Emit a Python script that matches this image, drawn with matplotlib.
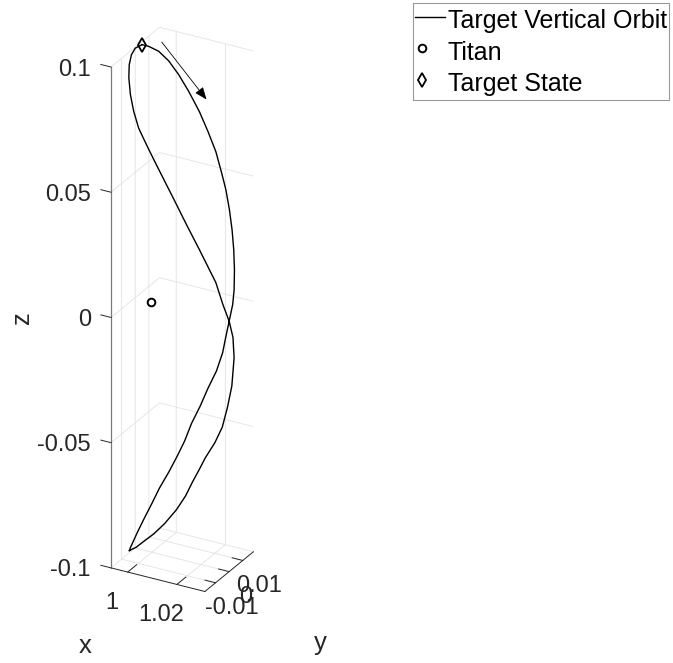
import matplotlib.pyplot as plt
import matplotlib.ticker as mticker
from matplotlib.legend_handler import HandlerLine2D
from mpl_toolkits.mplot3d import proj3d

# Target vertical orbit in the normalised rotating frame, starting at the target state
orbit_x = [0.9933, 0.9948, 0.9969, 0.9995, 1.0025, 1.0058, 1.0096, 1.0129, 1.0164, 1.0193,
           1.0217, 1.0238, 1.0261, 1.0280, 1.0299, 1.0311, 1.0314,
           1.0314,
           1.0314, 1.0311, 1.0299, 1.0280, 1.0261, 1.0238, 1.0217, 1.0193, 1.0164, 1.0129,
           1.0096, 1.0058, 1.0025, 0.9995, 0.9969, 0.9948, 0.9933,
           0.9934, 0.9941, 0.9958, 0.9979, 1.0006, 1.0031, 1.0055, 1.0085, 1.0112, 1.0152,
           1.0188, 1.0224, 1.0259, 1.0297, 1.0309,
           1.0314,
           1.0309, 1.0297, 1.0259, 1.0224, 1.0188, 1.0152, 1.0112, 1.0085, 1.0055, 1.0031,
           1.0006, 0.9979, 0.9958, 0.9941, 0.9934,
           0.9933]
orbit_y = [0.0048, 0.0070, 0.0105, 0.0131, 0.0151, 0.0165, 0.0175, 0.0178, 0.0173, 0.0161,
           0.0151, 0.0139, 0.0117, 0.0095, 0.0066, 0.0042, 0.0026,
           0.0,
           -0.0026, -0.0042, -0.0066, -0.0095, -0.0117, -0.0139, -0.0151, -0.0161, -0.0173, -0.0178,
           -0.0175, -0.0165, -0.0151, -0.0131, -0.0105, -0.0070, -0.0048,
           0.0003, 0.0044, 0.0091, 0.0132, 0.0169, 0.0190, 0.0197, 0.0194, 0.0189, 0.0187,
           0.0177, 0.0151, 0.0119, 0.0067, 0.0037,
           0.0,
           -0.0037, -0.0067, -0.0119, -0.0151, -0.0177, -0.0187, -0.0189, -0.0194, -0.0197, -0.0190,
           -0.0169, -0.0132, -0.0091, -0.0044, -0.0003,
           0.0048]
orbit_z = [0.0989, 0.0976, 0.0946, 0.0903, 0.0846, 0.0781, 0.0705, 0.0633, 0.0563, 0.0495,
           0.0434, 0.0365, 0.0300, 0.0235, 0.0173, 0.0107, 0.0055,
           0.0,
           -0.0055, -0.0107, -0.0173, -0.0235, -0.0300, -0.0365, -0.0434, -0.0495, -0.0563, -0.0633,
           -0.0705, -0.0781, -0.0846, -0.0903, -0.0946, -0.0976, -0.0989,
           -0.0998, -0.0992, -0.0977, -0.0949, -0.0904, -0.0853, -0.0795, -0.0735, -0.0680, -0.0609,
           -0.0533, -0.0431, -0.0325, -0.0180, -0.0082,
           0.0,
           0.0082, 0.0180, 0.0325, 0.0431, 0.0533, 0.0609, 0.0680, 0.0735, 0.0795, 0.0853,
           0.0904, 0.0949, 0.0977, 0.0992, 0.0998,
           0.0989]

titan = (0.99976, 0.0, 0.0)

x_ticks = [1.0, 1.02]
y_ticks = [-0.01, 0.0, 0.01]
z_ticks = [-0.1, -0.05, 0.0, 0.05, 0.1]
x_tick_labels = ['1', '1.02']
y_tick_labels = ['-0.01', '0', '0.01']
z_tick_labels = ['-0.1', '-0.05', '0', '0.05', '0.1']

xlim = (0.9932, 1.0314)
ylim = (-0.0178, 0.0178)
zlim = (-0.1, 0.1)

plt.rcParams['font.family'] = 'Liberation Sans'
plt.rcParams['grid.color'] = '#e2e2e2'
plt.rcParams['grid.linewidth'] = 0.6

ink = '#262626'

fig = plt.figure(figsize=(6.73, 6.63), dpi=100)
ax = fig.add_axes([-0.1596, 0.0965, 0.8380, 0.8507], projection='3d', proj_type='ortho')
ax.view_init(elev=27, azim=-61)
ax.set_xlim(*xlim)
ax.set_ylim(*ylim)
ax.set_zlim(*zlim)
ax.set_box_aspect((xlim[1] - xlim[0], ylim[1] - ylim[0], zlim[1] - zlim[0]))

orbit, = ax.plot(orbit_x, orbit_y, orbit_z, color='k', lw=1.0)
moon, = ax.plot([titan[0]], [titan[1]], [titan[2]], 'o', ms=5.5,
                mfc='none', mec='k', mew=1.4)
state, = ax.plot(orbit_x[:1], orbit_y[:1], orbit_z[:1], 'd', ms=7.5,
                 mfc='none', mec='k', mew=1.3)

ax.set_xticks(x_ticks)
ax.set_yticks(y_ticks)
ax.set_zticks(z_ticks)
for axis in (ax.xaxis, ax.yaxis, ax.zaxis):
    axis.set_major_formatter(mticker.NullFormatter())
    axis.set_tick_params(label1On=False, label2On=False, color=ink)
    axis.set_pane_color((1, 1, 1, 0))
    axis.line.set_color(ink)
    axis.line.set_linewidth(0.7)
    axis._axinfo['tick']['inward_factor'] = 0.0
    axis._axinfo['tick']['linewidth'] = {True: 0.7, False: 0.5}
ax.xaxis._axinfo['tick']['outward_factor'] = 2.3
ax.yaxis._axinfo['tick']['outward_factor'] = 1.4
ax.zaxis._axinfo['tick']['outward_factor'] = 1.35

# z axis on the left-hand vertical edge, ticks pointing along -x
ax.zaxis.set_ticks_position('lower')
ax.zaxis._get_tickdir = lambda position: 0
ax.zaxis.line.set_color('#7a7a7a')
ax.zaxis.line.set_linewidth(0.9)

# tick labels sit beside the box edges; project their 3D anchors onto the view plane
fig.canvas.draw()


def tick_label(x, y, z, s, ha):
    px, py, _ = proj3d.proj_transform(x, y, z, ax.M)
    ax.text2D(px, py, s, transform=ax.transData, ha=ha, va='center_baseline',
              fontsize=17, color=ink)


for t, s in zip(x_ticks, x_tick_labels):
    tick_label(t, ylim[0] - 0.0117, zlim[0] - 0.006, s, 'center')
for t, s in zip(y_ticks, y_tick_labels):
    tick_label(xlim[1] + 0.0067, t, zlim[0] - 0.0075, s, 'center')
for t, s in zip(z_ticks, z_tick_labels):
    tick_label(xlim[0] - 0.0062, ylim[0] - 0.0035, t, s, 'right')

fig.text(85.3 / 673, 1 - 653 / 663, 'x', ha='center', va='baseline', fontsize=18.5, color=ink)
fig.text(320 / 673, 1 - 650 / 663, 'y', ha='center', va='baseline', fontsize=18.5, color=ink)
fig.text(21.5 / 673, 1 - 318 / 663, 'z', ha='center', va='center', rotation=90,
         fontsize=18.5, color=ink)

# direction of motion along the orbit
ax.annotate('', xy=(206.5 / 673, 1 - 99.5 / 663), xytext=(161.7 / 673, 1 - 42 / 663),
            xycoords='figure fraction', textcoords='figure fraction',
            arrowprops=dict(arrowstyle='-|>,head_length=0.75,head_width=0.3',
                            color='k', lw=0.6, shrinkA=0, shrinkB=0),
            annotation_clip=False)

# marker-only entries sit towards the left of the handle slot
left_marker = HandlerLine2D(xpad=-0.64)
leg = fig.legend([orbit, moon, state], ['Target Vertical Orbit', 'Titan', 'Target State'],
                 loc='upper right', bbox_to_anchor=(669.3 / 673, 1 - 3 / 663),
                 borderaxespad=0, fontsize=18, fancybox=False, framealpha=1,
                 edgecolor='#999999', borderpad=0.1, labelspacing=0.1,
                 handleheight=1.4, handlelength=1.2, handletextpad=0.1, numpoints=1,
                 handler_map={moon: left_marker, state: left_marker})
leg.get_frame().set_linewidth(0.8)

fig.savefig('out.png', dpi=100)
